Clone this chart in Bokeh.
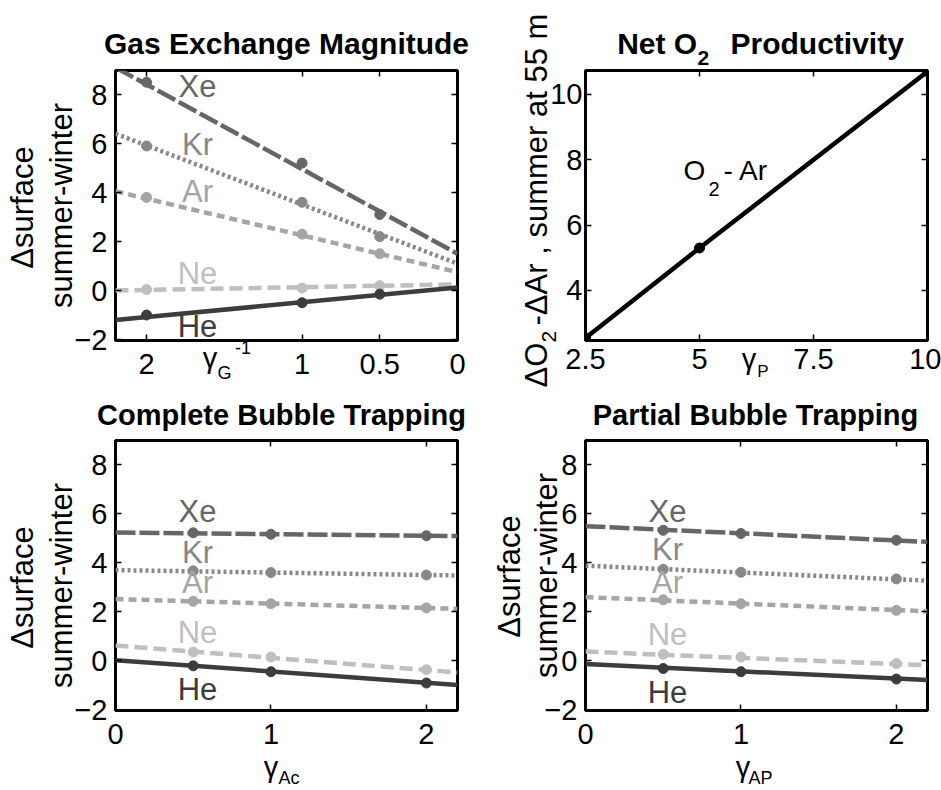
import math
from bokeh.plotting import figure
from bokeh.models import Range1d, FixedTicker, LinearAxis, Label
from bokeh.layouts import column, row
from bokeh.embed import file_html
from bokeh.resources import INLINE

FONT = "Liberation Sans"
NB = "\u00a0"

# ---------------- data ----------------
species = ["Xe", "Kr", "Ar", "Ne", "He"]

# Gas exchange magnitude (x = gamma_G^-1)
gas_x = [2.0, 1.0, 0.5]
gas_xe = [8.5, 5.2, 3.1]
gas_kr = [5.9, 3.6, 2.2]
gas_ar = [3.8, 2.3, 1.5]
gas_ne = [0.04, 0.1, 0.2]
gas_he = [-1.0, -0.5, -0.15]
gas_fit_x = [2.2, 0.0]
gas_fit_xe = [9.1, 1.5]
gas_fit_kr = [6.4, 1.1]
gas_fit_ar = [4.05, 0.75]
gas_fit_ne = [0.0, 0.25]
gas_fit_he = [-1.2, 0.12]

# Net O2 productivity (x = gamma_P)
prod_x = [2.5, 5.0, 10.0]
prod_y = [2.55, 5.3, 10.7]

# Complete bubble trapping (x = gamma_Ac)
ac_x = [0.5, 1.0, 2.0]
ac_xe = [5.22, 5.16, 5.1]
ac_kr = [3.67, 3.6, 3.5]
ac_ar = [2.43, 2.33, 2.16]
ac_ne = [0.36, 0.16, -0.36]
ac_he = [-0.2, -0.44, -0.9]
ac_fit_x = [0.0, 2.2]
ac_fit_xe = [5.23, 5.09]
ac_fit_kr = [3.7, 3.48]
ac_fit_ar = [2.52, 2.12]
ac_fit_ne = [0.63, -0.47]
ac_fit_he = [0.03, -0.98]

# Partial bubble trapping (x = gamma_AP)
ap_x = [0.5, 1.0, 2.0]
ap_xe = [5.32, 5.19, 4.92]
ap_kr = [3.73, 3.61, 3.34]
ap_ar = [2.49, 2.33, 2.06]
ap_ne = [0.27, 0.16, -0.11]
ap_he = [-0.31, -0.44, -0.74]
ap_fit_x = [0.0, 2.2]
ap_fit_xe = [5.49, 4.85]
ap_fit_kr = [3.88, 3.27]
ap_fit_ar = [2.6, 2.02]
ap_fit_ne = [0.38, -0.18]
ap_fit_he = [-0.13, -0.78]

gas_xticks = [2.0, 1.0, 0.5, 0.0]
gas_xticklabels = ["2", "1", "0.5", "0"]
bub_xticks = [0.0, 1.0, 2.0]
bub_xticklabels = ["0", "1", "2"]
gas_yticks = [-2.0, 0.0, 2.0, 4.0, 6.0, 8.0]
gas_yticklabels = ["\u22122", "0", "2", "4", "6", "8"]
prod_xticks = [2.5, 5.0, 7.5, 10.0]
prod_xticklabels = ["2.5", "5", "7.5", "10"]
prod_yticks = [4.0, 6.0, 8.0, 10.0]
prod_yticklabels = ["4", "6", "8", "10"]

# ---------------- styles ----------------
STYLE = {
    "Xe": ("#666666", "20 4"),
    "Kr": ("#888888", "3 3"),
    "Ar": ("#a5a5a5", "8 5"),
    "Ne": ("#bfbfbf", "13 6"),
    "He": ("#3c3c3c", "solid"),
}
LW = 4.5
TICK_FS = 29
ASC, HGT = 0.905, 1.117   # font ascent / line height (em)
MID = 0.3465              # baseline -> label anchor shift (em)
BELOW_FIX = 5             # empirical correction for the below-axis text pieces


def make_fig(w, h, fl, fr, ft, fb, xr, yr, xt, xtl, yt, ytl, xstand, ystand):
    p = figure(width=w, height=h, x_range=Range1d(*xr), y_range=Range1d(*yr),
               output_backend="svg", toolbar_location=None, title=None)
    p.min_border = 0
    p.min_border_left = fl
    p.min_border_right = w - fr
    p.min_border_top = ft
    p.min_border_bottom = h - fb
    p.grid.visible = False
    p.outline_line_color = "black"
    p.outline_line_width = 3
    p.background_fill_color = "white"
    p.border_fill_color = "white"
    for ax, ticks, labels, st in ((p.xaxis[0], xt, xtl, xstand), (p.yaxis[0], yt, ytl, ystand)):
        ax.ticker = FixedTicker(ticks=ticks)
        ax.major_label_overrides = {float(t): l for t, l in zip(ticks, labels)}
        ax.axis_line_color = None
        ax.major_tick_in = 6
        ax.major_tick_out = 0
        ax.major_tick_line_width = 1.5
        ax.minor_tick_line_color = None
        ax.major_label_text_font = FONT
        ax.major_label_text_font_size = f"{TICK_FS}px"
        ax.major_label_text_color = "black"
        ax.major_label_standoff = st
    for loc, ticks in (("above", xt), ("right", yt)):
        ax = LinearAxis(ticker=FixedTicker(ticks=ticks), major_label_text_color=None,
                        major_label_text_font_size="1px",
                        major_tick_in=6, major_tick_out=0, minor_tick_line_color=None,
                        axis_line_color=None, major_label_standoff=0, major_tick_line_width=1.5)
        p.add_layout(ax, loc)
    x0, x1 = xr
    y0, y1 = yr
    fx = lambda px: x0 + (px - fl) / (fr - fl) * (x1 - x0)
    fy = lambda py: y0 + (fb - py) / (fb - ft) * (y1 - y0)
    p._meta = dict(fb=fb, main=xstand + HGT * TICK_FS)
    return p, (fx, fy)


def lab(p, cv, px, py, text, size, color="black", align="left", angle=0.0, bold=False, side="center"):
    """px, py: wanted baseline point in figure pixels."""
    fx, fy = cv
    if angle:
        px = px - MID * size
    else:
        py = py - MID * size
    p.add_layout(Label(x=fx(px), y=fy(py), text=text, text_font=FONT,
                       text_font_size=f"{size}px", text_color=color, text_align=align,
                       text_baseline="alphabetic", angle=angle,
                       text_font_style="bold" if bold else "normal"), side)


def below_texts(p, cv, pieces):
    """Axis-label pieces below the frame, each drawn as a tick label of an extra axis."""
    fx, _ = cv
    fb = p._meta["fb"]
    cur = p._meta["main"]
    for cx, base, text, size in pieces:
        top = base + BELOW_FIX - ASC * size
        st = int(round(top - fb - cur))
        t = fx(cx)
        ax = LinearAxis(ticker=FixedTicker(ticks=[t]), major_label_overrides={t: text},
                        major_label_text_font=FONT, major_label_text_font_size=f"{size}px",
                        major_label_text_color="black", major_label_standoff=st,
                        major_tick_line_color=None, major_tick_in=0, major_tick_out=0,
                        minor_tick_line_color=None, axis_line_color=None)
        p.add_layout(ax, "below")
        cur += st + HGT * size


def draw_species(p, fit_x, fits, xs, vals):
    for sp, fy_, vy in zip(species, fits, vals):
        col, dash = STYLE[sp]
        p.line(fit_x, fy_, line_color=col, line_width=LW, line_dash=dash)
        p.scatter(xs, vy, size=10, color=col)


UP = math.pi / 2

# ---------------- panel 1 ----------------
p1, c1 = make_fig(470, 390, 115, 457, 70, 340, (2.2, 0.0), (-2.04, 8.98),
                  gas_xticks, gas_xticklabels, gas_yticks, gas_yticklabels, 13, 8)
draw_species(p1, gas_fit_x, [gas_fit_xe, gas_fit_kr, gas_fit_ar, gas_fit_ne, gas_fit_he],
             gas_x, [gas_xe, gas_kr, gas_ar, gas_ne, gas_he])
for sp, by in zip(species, [97, 155, 202, 284, 337]):
    lab(p1, c1, 197, by, sp, 31, color=STYLE[sp][0], align="center")
lab(p1, c1, 286, 53, "Gas Exchange Magnitude", 30, align="center", bold=True, side="above")
lab(p1, c1, 33, 207, "\u0394surface", 31, align="center", angle=UP, side="left")
lab(p1, c1, 72, 205, "summer-winter", 31, align="center", angle=UP, side="left")
below_texts(p1, c1, [(209.5, 372, "\u03b3", 29), (224, 380, "G", 18), (242.5, 355, "-1", 18)])

# ---------------- panel 2 ----------------
p2, c2 = make_fig(471, 390, 115, 457, 70, 340, (2.5, 10.0), (2.47, 10.73),
                  prod_xticks, prod_xticklabels, prod_yticks, prod_yticklabels, 8, 3)
p2.line(prod_x, prod_y, line_color="black", line_width=LW)
p2.scatter(prod_x, prod_y, size=10, color="black")
lab(p2, c2, 213, 180, "O", 28)
lab(p2, c2, 238, 195, "2", 20)
lab(p2, c2, 253, 180, "- Ar", 28)
lab(p2, c2, 290, 53, "Net O" + NB * 4 + "Productivity", 30, align="center", bold=True, side="above")
lab(p2, c2, 227, 65, "2", 21, bold=True, side="above")
lab(p2, c2, 77, 387, "\u0394O" + NB * 2 + "-\u0394Ar , summer at 55 m", 31, angle=UP, side="left")
lab(p2, c2, 86, 342, "2", 21, angle=UP, side="left")
below_texts(p2, c2, [(278.5, 373, "\u03b3", 29), (292.5, 378, "P", 17)])

# ---------------- panel 3 ----------------
p3, c3 = make_fig(470, 400, 115, 457, 50, 320, (0.0, 2.2), (-2.02, 8.98),
                  bub_xticks, bub_xticklabels, gas_yticks, gas_yticklabels, 13, 8)
draw_species(p3, ac_fit_x, [ac_fit_xe, ac_fit_kr, ac_fit_ar, ac_fit_ne, ac_fit_he],
             ac_x, [ac_xe, ac_kr, ac_ar, ac_ne, ac_he])
for sp, by in zip(species, [132, 173, 203, 253, 310]):
    lab(p3, c3, 197, by, sp, 31, color=STYLE[sp][0], align="center")
lab(p3, c3, 281, 35, "Complete Bubble Trapping", 29, align="center", bold=True, side="above")
lab(p3, c3, 33, 197, "\u0394surface", 31, align="center", angle=UP, side="left")
lab(p3, c3, 72, 195, "summer-winter", 31, align="center", angle=UP, side="left")
below_texts(p3, c3, [(288.5, 398, "Ac", 18), (270.5, 388, "\u03b3", 29)])

# ---------------- panel 4 ----------------
p4, c4 = make_fig(471, 400, 115, 457, 50, 320, (0.0, 2.2), (-2.02, 8.98),
                  bub_xticks, bub_xticklabels, gas_yticks, gas_yticklabels, 13, 8)
draw_species(p4, ap_fit_x, [ap_fit_xe, ap_fit_kr, ap_fit_ar, ap_fit_ne, ap_fit_he],
             ap_x, [ap_xe, ap_kr, ap_ar, ap_ne, ap_he])
for sp, by in zip(species, [132, 170, 203, 255, 313]):
    lab(p4, c4, 197, by, sp, 31, color=STYLE[sp][0], align="center")
lab(p4, c4, 285, 35, "Partial Bubble Trapping", 29, align="center", bold=True, side="above")
lab(p4, c4, 50, 186, "\u0394surface", 31, align="center", angle=UP, side="left")
lab(p4, c4, 87, 185, "summer-winter", 31, align="center", angle=UP, side="left")
below_texts(p4, c4, [(290, 398, "AP", 18), (272.5, 388, "\u03b3", 29)])

layout = column(row(p1, p2), row(p3, p4))
open("out.html", "w").write(file_html(layout, INLINE))
